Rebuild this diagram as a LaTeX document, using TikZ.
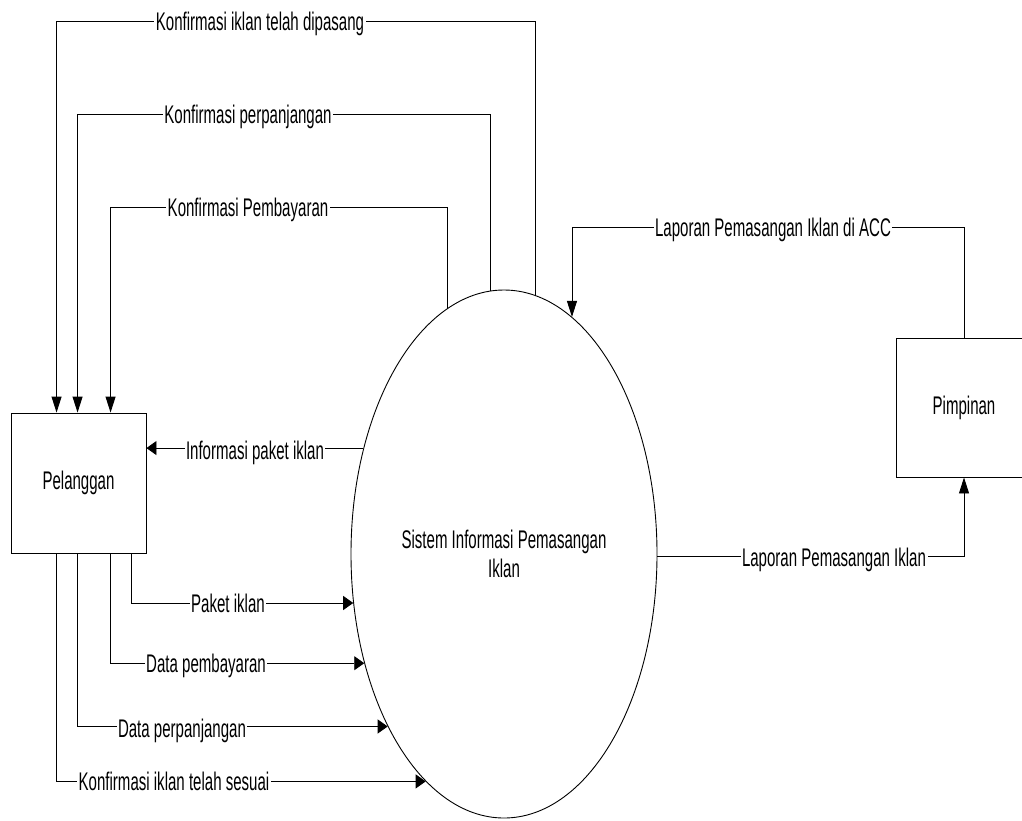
\documentclass[tikz,border=0pt]{standalone}
\usepackage{fontspec}
\setmainfont[FakeStretch=0.59]{Liberation Sans}
\usetikzlibrary{arrows.meta,shapes.geometric,calc}
\begin{document}
\begin{tikzpicture}[x=1pt,y=-1pt,
  line width=0.9pt,
  every node/.style={font=\fontsize{25.5}{29}\selectfont},
  box/.style={draw, inner sep=0pt},
  lbl/.style={fill=white, inner xsep=1.5pt, inner ysep=2pt, text height=18pt, text depth=0pt},
  vArr/.style={-{Triangle[length=16pt,width=10pt]}},
  hArr/.style={-{Triangle[length=10pt,width=14pt]}}
]
\useasboundingbox (0,0) rectangle (1022,820);

% entities and process
\node[box, minimum width=135pt, minimum height=140pt] (pel) at (78.5,483) {Pelanggan};
\node[box, minimum width=136pt, minimum height=139pt] (pim) at (964,407.5) {Pimpinan};
\node[draw, ellipse, minimum width=306pt, minimum height=528pt, inner sep=0pt, align=center] (sys) at (504,554) {Sistem Informasi Pemasangan\\Iklan};

% taps on Pelanggan
\coordinate (t1) at ([xshift=46pt]pel.north west);
\coordinate (t2) at ([xshift=67pt]pel.north west);
\coordinate (t3) at ([xshift=100pt]pel.north west);
\coordinate (b1) at ([xshift=46pt]pel.south west);
\coordinate (b2) at ([xshift=67pt]pel.south west);
\coordinate (b3) at ([xshift=100pt]pel.south west);
\coordinate (b4) at ([xshift=121pt]pel.south west);

% rows
\coordinate (r1) at (0,21);
\coordinate (r2) at (0,114);
\coordinate (r3) at (0,207);
\coordinate (r4) at (0,227);

% flows to Pelanggan
\draw[vArr] (sys.83.62) |- (r1 -| t1) -- (t1);
\draw[vArr] (sys.93.27) |- (r2 -| t2) -- (t2);
\draw[vArr] (sys.103.85) |- (r3 -| t3) -- (t3);
\draw[hArr] (sys.143.51) -- (sys.143.51 -| pel.east);

% flows from Pelanggan
\draw[hArr] (b4) |- (sys.198.06);
\draw[hArr] (b3) |- (sys.218.02);
\draw[hArr] (b2) |- (sys.236.52);
\draw[hArr] (b1) |- (sys.251.02);

% Pimpinan flows
\draw[vArr] (pim.north) |- (r4 -| sys.74.23) -- (sys.74.23);
\draw[vArr] (sys.-1) -| (pim.south);

% labels
\node[lbl] (l1) at (260,21) {Konfirmasi iklan telah dipasang};
\node[lbl] (l2) at (248,114) {Konfirmasi perpanjangan};
\node[lbl] (l3) at (248,207) {Konfirmasi Pembayaran};
\node[lbl] (l4) at (255,450) {Informasi paket iklan};
\node[lbl] (l5) at (228,603) {Paket iklan};
\node[lbl] (l6) at (206,663) {Data pembayaran};
\node[lbl] (l7) at (182,728) {Data perpanjangan};
\node[lbl] (l8) at (174,781) {Konfirmasi iklan telah sesuai};
\node[lbl] (l9) at (773,227) {Laporan Pemasangan Iklan di ACC};
\node[lbl] (l10) at (834,557) {Laporan Pemasangan Iklan};
\end{tikzpicture}
\end{document}
